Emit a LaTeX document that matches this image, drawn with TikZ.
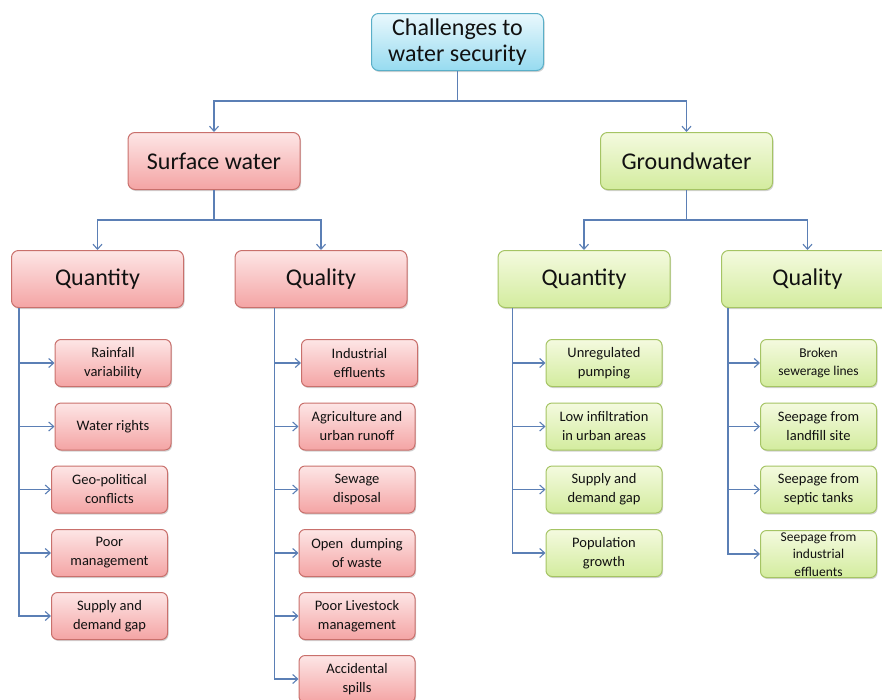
\documentclass[tikz,border=0pt]{standalone}
\usepackage{fontspec}
\setmainfont{Carlito}
\usetikzlibrary{arrows.meta,shadows,shadings}
\definecolor{conncol}{HTML}{5B7FB5}
\definecolor{redtop}{HTML}{FDE6E6}
\definecolor{redbot}{HTML}{F4A4A4}
\definecolor{redline}{HTML}{C9706C}
\definecolor{grntop}{HTML}{F4FADF}
\definecolor{grnbot}{HTML}{D3EC9E}
\definecolor{grnline}{HTML}{A5C464}
\definecolor{blutop}{HTML}{EAF8FD}
\definecolor{blubot}{HTML}{96DBF0}
\definecolor{bluline}{HTML}{5AAFC8}
\definecolor{txt}{HTML}{111111}
\tikzset{
  x=1pt, y=-1pt,
  boxbase/.style={rounded corners=7pt, line width=1pt, inner sep=0pt, align=center, text=txt,
    drop shadow={opacity=0.35, shadow xshift=1pt, shadow yshift=-1.5pt}},
  bigtxt/.style={font=\fontsize{24}{26}\selectfont, minimum width=172pt, minimum height=57pt},
  smalltxt/.style={font=\fontsize{14.5}{19}\selectfont, minimum width=116pt, minimum height=47pt, rounded corners=6pt},
  bluebox/.style={boxbase, bigtxt, draw=bluline, top color=blutop, bottom color=blubot},
  redbig/.style={boxbase, bigtxt, draw=redline, top color=redtop, bottom color=redbot},
  grnbig/.style={boxbase, bigtxt, draw=grnline, top color=grntop, bottom color=grnbot},
  redleaf/.style={boxbase, smalltxt, draw=redline, top color=redtop, bottom color=redbot},
  grnleaf/.style={boxbase, smalltxt, draw=grnline, top color=grntop, bottom color=grnbot},
  conn/.style={draw=conncol, line width=1.1pt},
  arr/.style={conn, -{Straight Barb[length=5pt,width=9pt,line width=1.1pt]}},
}
\begin{document}
\begin{tikzpicture}
\useasboundingbox (0,0) rectangle (882,699);
\begin{scope}
\clip (0,0) rectangle (882,699);
% top
\node[bluebox] (root) at (457.5,42) {Challenges to\\water security};
% level 1
\node[redbig] (sw) at (214,161) {Surface water};
\node[grnbig] (gw) at (686.5,161) {Groundwater};
% level 2
\node[redbig] (swqn) at (97.5,279) {Quantity};
\node[redbig] (swql) at (321,279) {Quality};
\node[grnbig] (gwqn) at (584,279) {Quantity};
\node[grnbig] (gwql) at (807.5,279) {Quality};
% surface quantity leaves
\node[redleaf] (a1) at (113,363) {Rainfall\\variability};
\node[redleaf] (a2) at (113,426.5) {Water rights};
\node[redleaf] (a3) at (109.5,489.5) {Geo-political\\conflicts};
\node[redleaf] (a4) at (109.5,553) {Poor\\management};
\node[redleaf] (a5) at (109.5,616) {Supply and\\demand gap};
% surface quality leaves
\node[redleaf] (b1) at (359.5,363) {Industrial\\effluents};
\node[redleaf] (b2) at (357,426.5) {Agriculture and\\urban runoff};
\node[redleaf] (b3) at (357,489.5) {Sewage\\disposal};
\node[redleaf] (b4) at (357,553) {Open\enspace dumping\\of waste};
\node[redleaf] (b5) at (357,616) {Poor Livestock\\management};
\node[redleaf] (b6) at (357,679) {Accidental\\spills};
% groundwater quantity leaves
\node[grnleaf] (c1) at (604,363) {Unregulated\\pumping};
\node[grnleaf] (c2) at (604,426.5) {Low infiltration\\in urban areas};
\node[grnleaf] (c3) at (604,489.5) {Supply and\\demand gap};
\node[grnleaf] (c4) at (604,553) {Population\\growth};
% groundwater quality leaves
\node[grnleaf, font=\fontsize{13.5}{18}\selectfont] (d1) at (818.5,363) {Broken\\sewerage lines};
\node[grnleaf] (d2) at (818.5,426.5) {Seepage from\\landfill site};
\node[grnleaf] (d3) at (818.5,489.5) {Seepage from\\septic tanks};
\node[grnleaf, font=\fontsize{13.5}{17.5}\selectfont] (d4) at (818.5,554) {Seepage from\\industrial\\effluents};
% connectors top
\coordinate (j0) at (457.5,101);
\draw[conn] (root.south) -- (j0);
\draw[arr] (j0) -| (sw.north);
\draw[arr] (j0) -| (gw.north);
\coordinate (j1) at (214,220);
\draw[conn] (sw.south) -- (j1);
\draw[arr] (j1) -| (swqn.north);
\draw[arr] (j1) -| (swql.north);
\coordinate (j2) at (686.5,220);
\draw[conn] (gw.south) -- (j2);
\draw[arr] (j2) -| (gwqn.north);
\draw[arr] (j2) -| (gwql.north);
% leaf connectors
\foreach \n in {a1,a2,a3,a4,a5}{\draw[arr] ([xshift=8pt]swqn.south west) |- (\n.west);}
\foreach \n in {b1,b2,b3,b4,b5,b6}{\draw[arr] ([xshift=40pt]swql.south west) |- (\n.west);}
\foreach \n in {c1,c2,c3,c4}{\draw[arr] ([xshift=15pt]gwqn.south west) |- (\n.west);}
\foreach \n in {d1,d2,d3,d4}{\draw[arr] ([xshift=7pt]gwql.south west) |- (\n.west);}
\end{scope}
\end{tikzpicture}
\end{document}
